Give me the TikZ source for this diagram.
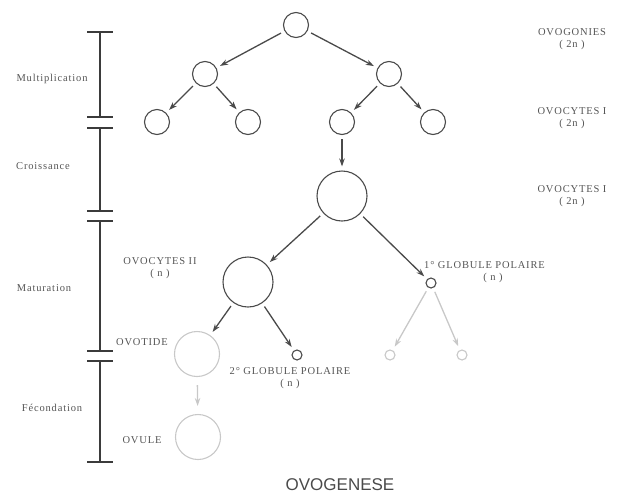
\documentclass[tikz,border=0pt]{standalone}
\usepackage{fontspec}
\setmainfont{Liberation Serif}
\newfontfamily\spaced[LetterSpace=8]{Liberation Serif}
\newfontfamily\titlefont{Liberation Sans}
\usetikzlibrary{arrows.meta}
\definecolor{ink}{HTML}{4A4A4A}
\definecolor{faint}{HTML}{C8C8C8}
\definecolor{txt}{HTML}{555555}
\begin{document}
\begin{tikzpicture}[x=1pt,y=-1pt,
  cell/.style={circle,draw=ink,line width=1.1pt,inner sep=0pt,minimum size=#1},
  pale/.style={circle,draw=faint,line width=1.1pt,inner sep=0pt,minimum size=#1},
  arr/.style={draw=ink,line width=1.3pt,-{Stealth[length=8pt,width=5.5pt]},shorten <=4pt,shorten >=4pt},
  parr/.style={draw=faint,line width=1.3pt,-{Stealth[length=8pt,width=5.5pt]},shorten <=4pt,shorten >=4pt},
  lab/.style={text=txt,font=\spaced\fontsize{10.5}{12}\selectfont,align=center,inner sep=0pt},
  phase/.style={text=txt,font=\spaced\fontsize{10.5}{12}\selectfont,inner sep=0pt},
  bar/.style={draw=ink!80!black,line width=2.6pt},
  tick/.style={draw=ink!80!black,line width=2.2pt}]
\useasboundingbox (0,0) rectangle (618,496);
% cells
\node[cell=25pt] (g0) at (296,25) {};
\node[cell=25pt] (g1) at (205,74) {};
\node[cell=25pt] (g2) at (389,74) {};
\node[cell=25pt] (c1) at (157,122) {};
\node[cell=25pt] (c2) at (248,122) {};
\node[cell=25pt] (c3) at (342,122) {};
\node[cell=25pt] (c4) at (433,122) {};
\node[cell=50pt] (big) at (342,196) {};
\node[cell=50pt] (ov2) at (248,282) {};
\node[cell=10pt] (gp1) at (431,283) {};
\node[pale=45pt] (otd) at (197,354) {};
\node[cell=10pt] (gp2) at (297,355) {};
\node[pale=10pt] (s1) at (390,355) {};
\node[pale=10pt] (s2) at (462,355) {};
\node[pale=45pt] (ovl) at (198,437) {};
% arrows
\draw[arr] (g0) -- (g1);
\draw[arr] (g0) -- (g2);
\draw[arr] (g1) -- (c1);
\draw[arr] (g1) -- (c2);
\draw[arr] (g2) -- (c3);
\draw[arr] (g2) -- (c4);
\draw[arr] (c3) -- (big);
\draw[arr] (big) -- (ov2);
\draw[arr] (big) -- (gp1);
\draw[arr] (ov2) -- (otd);
\draw[arr] (ov2) -- (gp2);
\draw[parr] (gp1) -- (s1);
\draw[parr] (gp1) -- (s2);
\draw[parr,shorten <=8pt,shorten >=8pt] (otd) -- (ovl);
% left scale
\coordinate (b0) at (100,32);
\coordinate (b1) at (100,117);
\coordinate (b2) at (100,128);
\coordinate (b3) at (100,211);
\coordinate (b4) at (100,221);
\coordinate (b5) at (100,351);
\coordinate (b6) at (100,361);
\coordinate (b7) at (100,462);
\draw[bar] (b0) -- (b1);
\draw[bar] (b2) -- (b3);
\draw[bar] (b4) -- (b5);
\draw[bar] (b6) -- (b7);
\foreach \b in {b0,b1,b2,b3,b4,b5,b6,b7}
  \draw[tick] ([xshift=-13pt]\b) -- ([xshift=13pt]\b);
\node[phase] (p1) at (52,79) {Multiplication};
\node[phase] (p2) at (43,166) {Croissance};
\node[phase] (p3) at (44,288) {Maturation};
\node[phase] (p4) at (52,408) {Fécondation};
% right labels
\node[lab] (l1) at (572,39) {OVOGONIES\\( 2n )};
\node[lab] (l2) at (572,118) {OVOCYTES I\\( 2n )};
\node[lab] (l3) at (572,196) {OVOCYTES I\\( 2n )};
\node[lab] (l4) at (160,268) {OVOCYTES II\\( n )};
\node[lab,anchor=north west] (l5) at (424,261) {1° GLOBULE POLAIRE};
\node[lab] (l5n) at (493,278) {( n )};
\node[lab] (l6) at (142,342) {OVOTIDE};
\node[lab] (l7) at (290,378) {2° GLOBULE POLAIRE\\( n )};
\node[lab] (l8) at (142,440) {OVULE};
\node[text=ink,font=\titlefont\fontsize{17}{19}\selectfont,inner sep=0pt] (t) at (340,485) {OVOGENESE};
\end{tikzpicture}
\end{document}
